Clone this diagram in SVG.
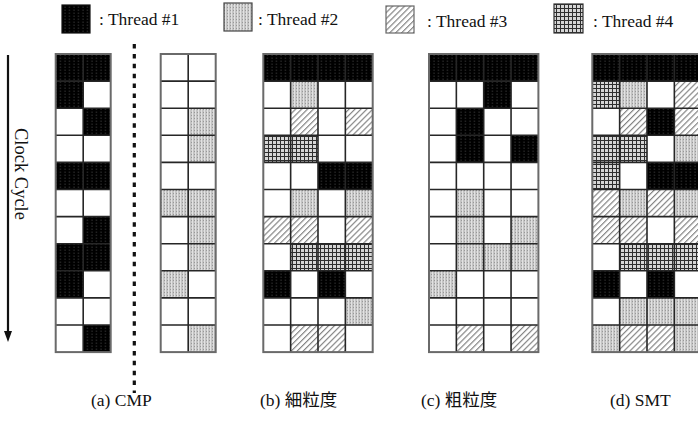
<svg xmlns="http://www.w3.org/2000/svg" width="698" height="429" viewBox="0 0 698 429">
<style>
text{font-family:"Liberation Serif","Noto Sans CJK JP",serif;fill:#111;}
.lg{font-size:17.5px;}
.cap{font-size:18.5px;}
.bg{fill:#fff;}
.t1{fill:url(#p1);}
.t2{fill:url(#p2);}
.t3{fill:url(#p3);}
.t4{fill:url(#p4);}
.gl{fill:none;stroke:#262626;stroke-width:1.6;}
.fr{fill:none;stroke:#6a6a6a;stroke-width:2;}
</style>
<defs>
<pattern id="p1" patternUnits="userSpaceOnUse" width="4.5" height="3">
<rect width="4.5" height="3" fill="#000"/>
<rect x="1.5" y="0.6" width="0.9" height="1.2" fill="#4a4a4a"/>
</pattern>
<pattern id="p2" patternUnits="userSpaceOnUse" width="3" height="3">
<rect width="3" height="3" fill="#c4c4c4"/>
<rect x="0" y="0" width="1" height="3" fill="#e2e2e2"/>
<rect x="2" y="1" width="1" height="1" fill="#989898"/>
</pattern>
<pattern id="p3" patternUnits="userSpaceOnUse" width="4.2" height="4.2" patternTransform="rotate(45)">
<rect width="4.2" height="4.2" fill="#fff"/>
<line x1="0.6" y1="0" x2="0.6" y2="4.2" stroke="#7a7a7a" stroke-width="1.1"/>
</pattern>
<pattern id="p4" patternUnits="userSpaceOnUse" width="4" height="4">
<rect width="4" height="4" fill="#d6d6d6"/>
<rect x="0" y="0" width="1" height="4" fill="#2e2e2e"/>
<rect x="0" y="0" width="4" height="1" fill="#2e2e2e"/>
</pattern>
<marker id="ah" markerUnits="userSpaceOnUse" markerWidth="11" markerHeight="9" refX="1" refY="4" orient="auto" viewBox="0 0 11 8">
<path d="M0,0 L11,4 L0,8 Z" fill="#111"/>
</marker>
</defs>

<g id="legend">
<g id="legend-t1"><rect x="62" y="5" width="28" height="28" class="t1" stroke="#111" stroke-width="1.2"/><text class="lg" x="99" y="25">: Thread #1</text></g>
<g id="legend-t2"><rect x="224" y="3" width="28" height="28" class="t2" stroke="#444" stroke-width="1.2"/><text class="lg" x="258" y="25">: Thread #2</text></g>
<g id="legend-t3"><rect x="386" y="6" width="28" height="27" class="t3" stroke="#666" stroke-width="1.2"/><text class="lg" x="427" y="26.5">: Thread #3</text></g>
<g id="legend-t4"><rect x="554" y="4" width="29" height="29" class="t4" stroke="#333" stroke-width="1.2"/><text class="lg" x="593" y="26.5">: Thread #4</text></g>
</g>

<g id="clock-axis">
<line x1="8" y1="55" x2="8" y2="332" stroke="#111" stroke-width="2.2" marker-end="url(#ah)"/>
<text class="cap" transform="translate(15,128) rotate(90)">Clock Cycle</text>
</g>

<g id="divider">
<line x1="134.3" y1="44" x2="134.3" y2="393" stroke="#111" stroke-width="3.2" stroke-dasharray="4.5 5.4"/>
</g>

<!-- (a) CMP left core -->
<g id="grid-a1">
<rect class="bg" x="55.7" y="54" width="55" height="298.1"/>
<rect class="t1" x="55.7" y="54" width="55" height="27.1"/>
<rect class="t1" x="55.7" y="81.1" width="27.5" height="27.1"/>
<rect class="t1" x="83.2" y="108.2" width="27.5" height="27.1"/>
<rect class="t1" x="55.7" y="162.4" width="55" height="27.1"/>
<rect class="t1" x="83.2" y="216.6" width="27.5" height="27.1"/>
<rect class="t1" x="55.7" y="243.7" width="55" height="27.1"/>
<rect class="t1" x="55.7" y="270.8" width="27.5" height="27.1"/>
<rect class="t1" x="83.2" y="325" width="27.5" height="27.1"/>
<path class="gl" d="M83.2,54V352.1M55.7,81.1H110.7M55.7,108.2H110.7M55.7,135.3H110.7M55.7,162.4H110.7M55.7,189.5H110.7M55.7,216.6H110.7M55.7,243.7H110.7M55.7,270.8H110.7M55.7,297.9H110.7M55.7,325H110.7"/>
<rect class="fr" x="55.7" y="54" width="55" height="298.1"/>
</g>

<!-- (a) CMP right core -->
<g id="grid-a2">
<rect class="bg" x="160.7" y="54" width="55" height="298.1"/>
<rect class="t2" x="188.2" y="108.2" width="27.5" height="54.2"/>
<rect class="t2" x="160.7" y="189.5" width="55" height="27.1"/>
<rect class="t2" x="188.2" y="216.6" width="27.5" height="54.2"/>
<rect class="t2" x="160.7" y="270.8" width="27.5" height="27.1"/>
<rect class="t2" x="188.2" y="325" width="27.5" height="27.1"/>
<path class="gl" d="M188.2,54V352.1M160.7,81.1H215.7M160.7,108.2H215.7M160.7,135.3H215.7M160.7,162.4H215.7M160.7,189.5H215.7M160.7,216.6H215.7M160.7,243.7H215.7M160.7,270.8H215.7M160.7,297.9H215.7M160.7,325H215.7"/>
<rect class="fr" x="160.7" y="54" width="55" height="298.1"/>
</g>

<!-- (b) fine-grained -->
<g id="grid-b">
<rect class="bg" x="263.3" y="54" width="109.4" height="298.1"/>
<rect class="t1" x="263.3" y="54" width="109.4" height="27.1"/>
<rect class="t2" x="290.65" y="81.1" width="27.35" height="27.1"/>
<rect class="t3" x="290.65" y="108.2" width="27.35" height="27.1"/>
<rect class="t3" x="345.35" y="108.2" width="27.35" height="27.1"/>
<rect class="t4" x="263.3" y="135.3" width="54.7" height="27.1"/>
<rect class="t1" x="318" y="162.4" width="54.7" height="27.1"/>
<rect class="t2" x="290.65" y="189.5" width="27.35" height="27.1"/>
<rect class="t2" x="345.35" y="189.5" width="27.35" height="27.1"/>
<rect class="t3" x="263.3" y="216.6" width="54.7" height="27.1"/>
<rect class="t3" x="345.35" y="216.6" width="27.35" height="27.1"/>
<rect class="t4" x="290.65" y="243.7" width="82.05" height="27.1"/>
<rect class="t1" x="263.3" y="270.8" width="27.35" height="27.1"/>
<rect class="t1" x="318" y="270.8" width="27.35" height="27.1"/>
<rect class="t2" x="345.35" y="297.9" width="27.35" height="27.1"/>
<rect class="t3" x="290.65" y="325" width="54.7" height="27.1"/>
<path class="gl" d="M290.65,54V352.1M318,54V352.1M345.35,54V352.1M263.3,81.1H372.7M263.3,108.2H372.7M263.3,135.3H372.7M263.3,162.4H372.7M263.3,189.5H372.7M263.3,216.6H372.7M263.3,243.7H372.7M263.3,270.8H372.7M263.3,297.9H372.7M263.3,325H372.7"/>
<rect class="fr" x="263.3" y="54" width="109.4" height="298.1"/>
</g>

<!-- (c) coarse-grained -->
<g id="grid-c">
<rect class="bg" x="429" y="54" width="109.4" height="298.1"/>
<rect class="t1" x="429" y="54" width="109.4" height="27.1"/>
<rect class="t1" x="483.7" y="81.1" width="27.35" height="27.1"/>
<rect class="t1" x="456.35" y="108.2" width="27.35" height="54.2"/>
<rect class="t1" x="511.05" y="135.3" width="27.35" height="27.1"/>
<rect class="t2" x="456.35" y="189.5" width="27.35" height="81.3"/>
<rect class="t2" x="511.05" y="216.6" width="27.35" height="54.2"/>
<rect class="t2" x="483.7" y="243.7" width="27.35" height="27.1"/>
<rect class="t2" x="429" y="270.8" width="27.35" height="27.1"/>
<rect class="t3" x="456.35" y="325" width="27.35" height="27.1"/>
<rect class="t3" x="511.05" y="325" width="27.35" height="27.1"/>
<path class="gl" d="M456.35,54V352.1M483.7,54V352.1M511.05,54V352.1M429,81.1H538.4M429,108.2H538.4M429,135.3H538.4M429,162.4H538.4M429,189.5H538.4M429,216.6H538.4M429,243.7H538.4M429,270.8H538.4M429,297.9H538.4M429,325H538.4"/>
<rect class="fr" x="429" y="54" width="109.4" height="298.1"/>
</g>

<!-- (d) SMT -->
<g id="grid-d">
<rect class="bg" x="592.3" y="54" width="109.4" height="298.1"/>
<rect class="t1" x="592.3" y="54" width="109.4" height="27.1"/>
<rect class="t4" x="592.3" y="81.1" width="27.35" height="27.1"/>
<rect class="t2" x="619.65" y="81.1" width="27.35" height="27.1"/>
<rect class="t3" x="674.35" y="81.1" width="27.35" height="27.1"/>
<rect class="t3" x="619.65" y="108.2" width="27.35" height="27.1"/>
<rect class="t1" x="647" y="108.2" width="27.35" height="27.1"/>
<rect class="t3" x="674.35" y="108.2" width="27.35" height="27.1"/>
<rect class="t4" x="592.3" y="135.3" width="54.7" height="27.1"/>
<rect class="t2" x="674.35" y="135.3" width="27.35" height="27.1"/>
<rect class="t4" x="592.3" y="162.4" width="27.35" height="27.1"/>
<rect class="t1" x="647" y="162.4" width="54.7" height="27.1"/>
<rect class="t3" x="592.3" y="189.5" width="27.35" height="27.1"/>
<rect class="t2" x="619.65" y="189.5" width="27.35" height="27.1"/>
<rect class="t3" x="647" y="189.5" width="27.35" height="27.1"/>
<rect class="t2" x="674.35" y="189.5" width="27.35" height="27.1"/>
<rect class="t3" x="592.3" y="216.6" width="54.7" height="27.1"/>
<rect class="t3" x="674.35" y="216.6" width="27.35" height="27.1"/>
<rect class="t4" x="619.65" y="243.7" width="82.05" height="27.1"/>
<rect class="t1" x="592.3" y="270.8" width="27.35" height="27.1"/>
<rect class="t1" x="647" y="270.8" width="27.35" height="27.1"/>
<rect class="t2" x="619.65" y="297.9" width="82.05" height="27.1"/>
<rect class="t2" x="592.3" y="325" width="27.35" height="27.1"/>
<rect class="t3" x="619.65" y="325" width="54.7" height="27.1"/>
<rect class="t2" x="674.35" y="325" width="27.35" height="27.1"/>
<path class="gl" d="M619.65,54V352.1M647,54V352.1M674.35,54V352.1M592.3,81.1H701.7M592.3,108.2H701.7M592.3,135.3H701.7M592.3,162.4H701.7M592.3,189.5H701.7M592.3,216.6H701.7M592.3,243.7H701.7M592.3,270.8H701.7M592.3,297.9H701.7M592.3,325H701.7"/>
<rect class="fr" x="592.3" y="54" width="109.4" height="298.1"/>
</g>

<g id="captions">
<text class="lg" x="91" y="406">(a) CMP</text>
<text class="lg" x="260" y="406">(b) 細粒度</text>
<text class="lg" x="421" y="406">(c) 粗粒度</text>
<text class="lg" x="610" y="406">(d) SMT</text>
</g>
</svg>
